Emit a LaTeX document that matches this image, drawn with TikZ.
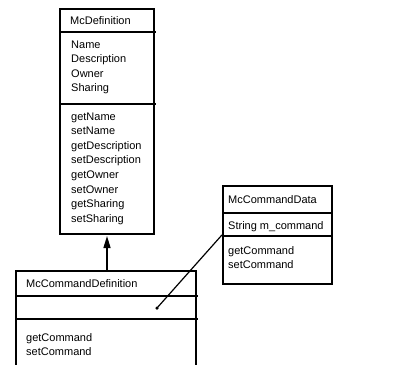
\documentclass[tikz,border=0pt]{standalone}
\usepackage{fontspec}
\setmainfont{Liberation Sans}
\usetikzlibrary{arrows.meta}
\begin{document}
\begin{tikzpicture}[x=1pt,y=-1pt,
  box/.style={draw, line width=1.8pt, inner sep=0pt, anchor=north west},
  sepline/.style={line width=1.5pt},
  lbl/.style={anchor=base west, inner sep=0pt, font=\fontsize{11}{13}\selectfont},
  inherit/.style={line width=1.4pt, -{Triangle[length=12pt,width=7pt]}},
  link/.style={line width=1.2pt}]
\useasboundingbox (0,0) rectangle (401,364);
% McDefinition
\node[box, minimum width=94pt, minimum height=225pt] (mcdef) at (59,8) {};
\draw[sepline] (59,32) -- (156,32);
\draw[sepline] (59,104) -- (156,104);
\node[lbl] (t1) at (70,24) {McDefinition};
\node[lbl] (a1) at (71,48) {Name};
\node[lbl] (a2) at (71,62.6) {Description};
\node[lbl] (a3) at (71,77.2) {Owner};
\node[lbl] (a4) at (71,91.8) {Sharing};
\node[lbl] (m1) at (71,120) {getName};
\node[lbl] (m2) at (71,134.6) {setName};
\node[lbl] (m3) at (71,149.2) {getDescription};
\node[lbl] (m4) at (71,163.8) {setDescription};
\node[lbl] (m5) at (71,178.4) {getOwner};
\node[lbl] (m6) at (71,193) {setOwner};
\node[lbl] (m7) at (71,207.6) {getSharing};
\node[lbl] (m8) at (71,222.2) {setSharing};
% McCommandDefinition
\node[box, minimum width=180pt, minimum height=100pt] (cmddef) at (15,270) {};
\draw[sepline] (15,296) -- (198,296);
\draw[sepline] (15,319) -- (198,319);
\node[lbl] (t2) at (26,287) {McCommandDefinition};
\node[lbl] (c1) at (26,341) {getCommand};
\node[lbl] (c2) at (26,355) {setCommand};
% McCommandData
\node[box, minimum width=109pt, minimum height=98pt] (cmddata) at (222,185) {};
\draw[sepline] (222,213) -- (331,213);
\draw[sepline] (222,236) -- (331,236);
\node[lbl] (t3) at (228,203) {McCommandData};
\node[lbl] (d1) at (228,229) {String m\_command};
\node[lbl] (d2) at (228,254) {getCommand};
\node[lbl] (d3) at (228,268.6) {setCommand};
% connectors
\coordinate (arrtip) at (107,236);
\draw[inherit] (arrtip |- cmddef.north) -- (arrtip);
\node[circle, fill, inner sep=0pt, minimum size=3.5pt] (dot) at (157,308) {};
\draw[link] (dot.center) -- (cmddata.west);
\end{tikzpicture}
\end{document}
